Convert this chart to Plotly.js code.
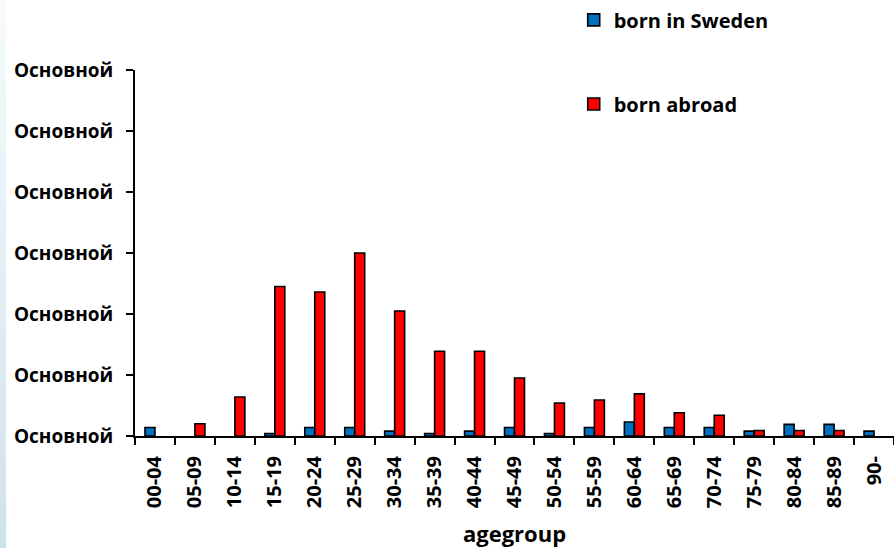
<!DOCTYPE html>
<html>
<head>
<meta charset="utf-8">
<script src="https://cdn.plot.ly/plotly-3.0.1.min.js"></script>
<style>
html,body{margin:0;padding:0;background:#fff;}
#wrap{position:relative;width:894px;height:548px;overflow:hidden;}
#strip{position:absolute;left:0;top:0;width:6px;height:548px;background:linear-gradient(to bottom,#f6fbfd,#cfe2e9);}
#chart{position:absolute;left:0;top:0;width:894px;height:548px;}
</style>
</head>
<body>
<div id="wrap"><div id="strip"></div><div id="chart"></div></div>
<script>
const categories = ["00-04","05-09","10-14","15-19","20-24","25-29","30-34","35-39","40-44","45-49","50-54","55-59","60-64","65-69","70-74","75-79","80-84","85-89","90-"];
const bornSweden = [0.14,0,0,0.04,0.14,0.14,0.08,0.04,0.08,0.14,0.04,0.14,0.23,0.14,0.14,0.08,0.19,0.19,0.08];
const bornAbroad = [0,0.2,0.64,2.45,2.36,3.0,2.05,1.39,1.39,0.95,0.54,0.59,0.69,0.38,0.34,0.09,0.09,0.09,0];
const yTickVals = [0,1,2,3,4,5,6];
const yTickText = ["Основной","Основной","Основной","Основной","Основной","Основной","Основной"];
const seriesNames = ["born in Sweden","born abroad"];

const FONT = "'Open Sans', sans-serif";
const hideZero = v => (v === 0 ? null : v);
const traces = [
  {type:"bar", x:categories, y:bornSweden.map(hideZero), name:seriesNames[0], legend:"legend",
   marker:{color:"#0070C0", line:{color:"#000", width:1.6}}},
  {type:"bar", x:categories, y:bornAbroad.map(hideZero), name:seriesNames[1], legend:"legend2",
   marker:{color:"#FF0000", line:{color:"#000", width:1.6}}}
];
const legendFont = {family:FONT, size:20, color:"#000", weight:"bold"};
const layout = {
  width:894, height:548,
  margin:{l:135, r:0, t:70, b:112},
  paper_bgcolor:"rgba(0,0,0,0)", plot_bgcolor:"rgba(0,0,0,0)",
  barmode:"group", bargap:0.5, bargroupgap:0,
  font:{family:FONT, color:"#000"},
  xaxis:{
    type:"category", range:[-0.5,18.5],
    showline:true, linecolor:"#000", linewidth:2,
    ticks:"outside", ticklen:7, tickwidth:2, tickcolor:"#000",
    tickson:"boundaries",
    tickangle:-90, ticklabelstandoff:10,
    tickfont:{family:FONT, size:20, color:"#000", weight:"bold"},
    title:{text:"agegroup", font:{family:FONT, size:22, color:"#000", weight:"bold"}, standoff:21},
    showgrid:false, zeroline:false, fixedrange:true
  },
  yaxis:{
    range:[0,6], tickmode:"array", tickvals:yTickVals, ticktext:yTickText,
    showline:true, linecolor:"#000", linewidth:2,
    ticks:"outside", ticklen:7, tickwidth:2, tickcolor:"#000",
    ticklabelstandoff:9,
    tickfont:{family:FONT, size:19, color:"#000", weight:"bold"},
    showgrid:false, zeroline:false, fixedrange:true
  },
  legend:{x:0.578, y:1.137, xanchor:"left", yanchor:"middle", font:legendFont,
    bgcolor:"rgba(0,0,0,0)", itemwidth:30, tracegroupgap:0},
  legend2:{x:0.578, y:0.907, xanchor:"left", yanchor:"middle", font:legendFont,
    bgcolor:"rgba(0,0,0,0)", itemwidth:30, tracegroupgap:0},
  showlegend:true
};
Plotly.newPlot("chart", traces, layout, {displayModeBar:false, staticPlot:true});
</script>
</body>
</html>
